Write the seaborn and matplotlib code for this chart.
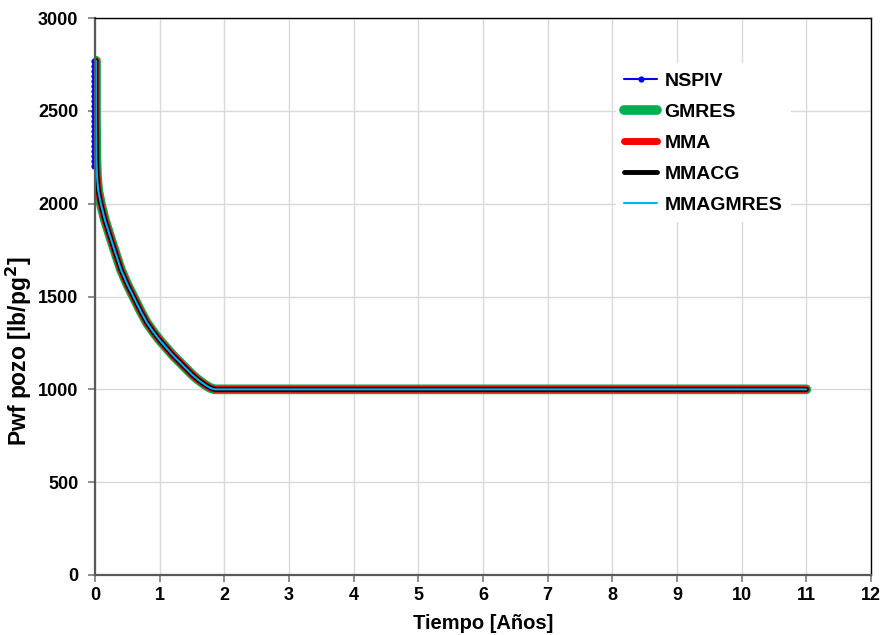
import matplotlib
matplotlib.use("Agg")
import matplotlib.pyplot as plt
import pandas as pd
import seaborn as sns

# Tiempo [Años] and Pwf [lb/pg2]
TIME = [0.015, 0.015, 0.02, 0.03, 0.05, 0.09, 0.15, 0.25, 0.4, 0.5, 0.6, 0.7, 0.8,
        0.9, 1.0, 1.1, 1.2, 1.3, 1.4, 1.5, 1.6, 1.7, 1.78, 1.85, 11.0]
PWF = [2770, 2450, 2250, 2150, 2070, 2000, 1915, 1805, 1645, 1565, 1495, 1425, 1360,
       1310, 1265, 1225, 1185, 1150, 1115, 1080, 1050, 1025, 1008, 1000, 1000]

# NSPIV early-time steps (dense points right at t ~ 0)
NSPIV_EARLY_T = [-0.02] * 22
NSPIV_EARLY_P = [2770, 2743, 2716, 2689, 2662, 2635, 2608, 2581, 2554, 2527, 2500,
                 2473, 2446, 2419, 2392, 2365, 2338, 2311, 2284, 2257, 2230, 2205]

SERIES = ["NSPIV", "GMRES", "MMA", "MMACG", "MMAGMRES"]
COLORS = ["#0000FF", "#00B050", "#FF0000", "#000000", "#00B0F0"]
WIDTHS = [1.5, 7, 5, 3.5, 1.5]

X_TICKS = list(range(0, 13))
Y_TICKS = [0, 500, 1000, 1500, 2000, 2500, 3000]

sns.set_theme(style="whitegrid")
plt.rcParams["font.family"] = ["Liberation Sans", "DejaVu Sans"]
plt.rcParams["text.color"] = "black"
plt.rcParams["axes.labelcolor"] = "black"

fig = plt.figure(figsize=(8.84, 6.35), dpi=100)
ax = fig.add_axes([0.1075, 0.0945, 0.8778, 0.877])

nspiv = pd.DataFrame({"t": NSPIV_EARLY_T + TIME[2:], "p": NSPIV_EARLY_P + PWF[2:]})
sns.lineplot(data=nspiv, x="t", y="p", ax=ax, color=COLORS[0], lw=WIDTHS[0],
             marker="o", markersize=4.5, markeredgewidth=0, sort=False,
             estimator=None, label=SERIES[0], clip_on=False)

curve = pd.DataFrame({"t": TIME, "p": PWF})
for name, color, lw in zip(SERIES[1:], COLORS[1:], WIDTHS[1:]):
    sns.lineplot(data=curve, x="t", y="p", ax=ax, color=color, lw=lw,
                 sort=False, estimator=None, label=name,
                 solid_capstyle="round", solid_joinstyle="round")

ax.set_xlim(0, 12)
ax.set_ylim(0, 3000)
ax.set_xticks(X_TICKS)
ax.set_yticks(Y_TICKS)
ax.tick_params(axis="both", labelsize=13, length=5, color="#808080",
               labelcolor="black", bottom=True, left=True, pad=4)
ax.tick_params(axis="y", pad=7)
for lab in ax.get_xticklabels() + ax.get_yticklabels():
    lab.set_fontweight("bold")
ax.grid(True, color="#D9D9D9", lw=1)
for side in ["top", "right"]:
    ax.spines[side].set_color("black")
    ax.spines[side].set_linewidth(1.0)
for side in ["left", "bottom"]:
    ax.spines[side].set_color("#595959")
    ax.spines[side].set_linewidth(1.6)

ax.set_xlabel("Tiempo [Años]", fontsize=14.5, fontweight="bold", labelpad=7)
ax.set_ylabel("Pwf pozo [lb/pg$^{\\mathbf{2}}$]", fontsize=16.5, fontweight="bold")
ax.yaxis.set_label_coords(-0.079, 0.402)

leg = ax.legend(loc="upper left", bbox_to_anchor=(0.671, 0.919), frameon=True,
                framealpha=1, facecolor="white", edgecolor="white", fontsize=14,
                handlelength=1.65, handletextpad=0.4, labelspacing=0.69,
                borderpad=0.45, borderaxespad=0)
leg.get_frame().set_linewidth(0)
for text in leg.get_texts():
    text.set_fontweight("bold")

fig.savefig("out.png", dpi=100)
